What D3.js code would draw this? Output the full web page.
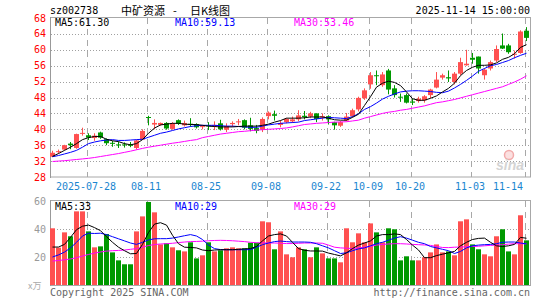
<!DOCTYPE html>
<html>
<head>
<meta charset="utf-8">
<script src="https://cdn.jsdelivr.net/npm/d3@7/dist/d3.min.js"></script>
<style>
body { margin: 0; background: #fff; }
text { font-family: "DejaVu Sans Mono", monospace; }
</style>
</head>
<body>
<div id="chart"></div>
<script>
// trading days shown, oldest first
var dates = [
  "2025-07-18","2025-07-21","2025-07-22","2025-07-23","2025-07-24","2025-07-25","2025-07-28","2025-07-29","2025-07-30","2025-07-31",
  "2025-08-01","2025-08-04","2025-08-05","2025-08-06","2025-08-07","2025-08-08","2025-08-11","2025-08-12","2025-08-13","2025-08-14",
  "2025-08-15","2025-08-18","2025-08-19","2025-08-20","2025-08-21","2025-08-22","2025-08-25","2025-08-26","2025-08-27","2025-08-28",
  "2025-08-29","2025-09-01","2025-09-02","2025-09-03","2025-09-04","2025-09-05","2025-09-08","2025-09-09","2025-09-10","2025-09-11",
  "2025-09-12","2025-09-15","2025-09-16","2025-09-17","2025-09-18","2025-09-19","2025-09-22","2025-09-23","2025-09-24","2025-09-25",
  "2025-09-26","2025-09-29","2025-09-30","2025-10-09","2025-10-10","2025-10-13","2025-10-14","2025-10-15","2025-10-16","2025-10-17",
  "2025-10-20","2025-10-21","2025-10-22","2025-10-23","2025-10-24","2025-10-27","2025-10-28","2025-10-29","2025-10-30","2025-10-31",
  "2025-11-03","2025-11-04","2025-11-05","2025-11-06","2025-11-07","2025-11-10","2025-11-11","2025-11-12","2025-11-13","2025-11-14"
];
var tickDates = ["2025-07-28","2025-08-11","2025-08-25","2025-09-08","2025-09-22","2025-10-09","2025-10-20","2025-11-03","2025-11-14"];
var tickLabels = ["2025-07-28","08-11","08-25","09-08","09-22","10-09","10-20","11-03","11-14"];
var priceTicks = [28, 32, 36, 40, 44, 48, 52, 56, 60, 64, 68];
var volTicks = [20, 40, 60];

var opens = [
  33.1,34.3,34.9,36.4,35.3,38.9,38.5,37.8,39.2,37.5,
  36.6,36.2,36.2,36.1,35.3,37.4,43.1,41.2,41.1,41.6,
  40.1,42.3,41.0,41.4,41.3,40.6,41.0,40.8,41.5,39.9,
  41.3,41.8,42.3,41.0,40.3,39.9,43.3,43.8,41.1,41.8,
  42.0,42.5,43.4,43.2,44.0,43.0,43.3,41.8,40.9,42.2,
  43.3,45.0,47.8,51.3,53.6,51.1,54.8,50.3,48.2,48.6,
  47.0,47.1,47.3,48.6,50.5,53.0,53.1,51.9,54.0,56.1,
  58.0,58.3,53.6,55.3,57.3,61.1,61.1,58.8,59.2,64.8
];
var highs = [
  34.6,34.9,36.1,36.8,38.9,40.4,39.0,39.0,39.4,37.7,
  37.1,36.9,36.7,36.8,37.4,40.0,43.4,42.5,41.7,41.8,
  41.8,42.5,42.2,42.8,41.5,41.1,41.8,42.0,42.4,41.5,
  42.0,42.6,42.5,42.9,41.1,43.0,44.5,44.7,42.2,42.8,
  43.2,44.8,44.6,44.4,44.0,44.0,43.5,41.9,42.1,44.1,
  45.2,48.2,50.3,54.4,54.8,54.4,55.2,51.1,49.0,49.0,
  47.7,48.2,48.6,50.2,54.4,54.0,54.8,54.4,58.0,60.0,
  59.2,58.3,55.3,57.3,61.1,64.1,61.5,59.8,64.9,65.7
];
var lows = [
  33.0,33.9,34.7,35.0,35.1,38.4,37.3,37.1,37.6,36.0,
  35.6,35.3,35.4,35.5,34.9,37.3,41.0,40.0,40.9,39.9,
  39.9,41.1,40.7,40.6,40.2,40.0,39.8,39.8,39.7,39.3,
  40.6,41.0,40.0,39.5,39.0,39.3,42.5,42.2,40.5,41.5,
  41.6,42.0,42.5,42.8,41.8,42.2,41.2,39.9,40.6,42.0,
  43.0,44.5,47.4,50.2,51.1,50.7,48.8,48.0,46.9,46.5,
  46.1,46.7,46.7,47.8,50.3,52.5,51.9,51.3,53.6,56.0,
  56.5,54.0,52.5,54.8,56.9,60.2,59.0,57.8,59.0,62.2
];
var closes = [
  34.1,34.5,36.0,36.0,38.8,39.1,37.9,38.4,37.9,36.5,
  36.4,36.0,36.0,35.9,37.2,39.6,42.9,41.6,41.6,40.2,
  41.5,41.4,41.6,41.2,40.5,40.8,40.8,41.1,40.0,40.8,
  41.6,42.0,40.4,40.1,39.6,42.6,44.2,43.4,41.6,42.6,
  42.5,43.5,43.1,44.0,42.6,43.3,42.5,41.0,41.8,43.2,
  44.8,47.9,49.8,53.6,53.4,53.8,50.0,48.6,48.0,46.7,
  46.7,47.7,48.3,50.0,52.5,53.6,52.8,54.0,56.9,56.5,
  57.5,55.3,55.0,56.9,60.2,60.3,59.4,59.0,64.6,63.0
];
// volume, 万手
var volumes = [
  40.5,26.7,37.6,34.8,52.6,52.6,38.3,26.9,27.6,36.4,
  23.3,17.6,14.8,14.8,38.3,49.0,59.3,51.9,29.0,29.8,
  26.9,24.8,24.0,30.5,19.0,21.2,30.5,24.0,24.8,26.2,
  26.9,26.2,26.2,30.2,30.2,45.5,44.8,25.5,38.3,21.9,
  19.8,26.9,25.5,19.8,26.9,22.6,19.0,19.0,16.2,40.5,
  30.5,36.9,30.5,44.0,37.6,30.5,40.5,39.8,17.6,20.5,
  17.6,17.6,19.8,23.3,29.0,23.3,24.0,21.2,45.5,46.9,
  29.0,25.5,21.9,20.5,34.8,39.8,24.0,21.9,49.8,31.9
];

// moving averages as drawn on the chart
var ma5 = [
  33.2,33.9,34.7,35.5,36.4,37.4,37.9,38.2,38.2,37.5,
  37.1,36.9,36.4,36.1,36.4,37.4,39.0,40.3,41.1,41.3,
  41.5,41.5,41.3,41.2,41.2,41.0,40.8,40.7,40.6,40.6,
  40.6,40.7,40.8,40.8,40.8,41.0,41.3,41.8,42.2,42.8,
  42.8,42.8,42.9,43.1,43.1,43.1,42.8,42.4,42.3,42.3,
  43.0,43.8,46.0,48.2,50.6,51.6,52.1,51.8,51.0,49.4,
  47.7,47.3,47.3,47.8,48.4,49.4,50.3,51.6,53.5,54.8,
  55.6,56.1,56.1,56.2,56.7,57.6,58.1,59.0,60.6,61.3
];
var ma10 = [
  33.1,33.4,33.8,34.2,34.7,35.5,36.4,36.8,37.1,37.3,
  37.4,37.2,37.2,37.3,37.4,37.5,38.0,38.5,39.0,39.3,
  39.7,40.1,40.4,40.7,40.9,41.0,41.0,41.0,40.9,40.8,
  40.8,40.7,40.6,40.5,40.5,40.8,41.1,41.3,41.5,41.6,
  41.7,41.8,42.2,42.4,42.6,42.8,43.0,42.9,42.8,42.7,
  43.2,43.9,45.0,45.7,46.6,47.6,48.3,48.9,49.4,49.6,
  49.7,49.7,49.6,49.5,49.3,49.2,49.6,50.4,51.3,52.3,
  53.4,54.6,55.3,56.0,56.3,56.8,57.3,58.0,58.6,59.13
];
var ma30 = [
  31.9,32.0,32.1,32.25,32.4,32.55,32.7,32.9,33.15,33.4,
  33.65,33.9,34.2,34.5,34.85,35.2,35.5,35.75,36.0,36.25,
  36.5,36.7,36.95,37.2,37.4,37.9,38.2,38.5,38.8,39.0,
  39.2,39.4,39.5,39.65,39.8,39.9,40.0,40.1,40.2,40.35,
  40.6,40.9,41.2,41.35,41.5,41.6,41.7,41.8,41.85,41.9,
  42.1,42.3,42.8,43.2,43.6,44.0,44.3,44.5,44.8,45.0,
  45.3,45.6,45.9,46.3,46.7,46.9,47.2,47.5,47.9,48.3,
  48.7,49.1,49.5,49.9,50.3,50.7,51.3,51.9,52.6,53.46
];
var vma5 = [
  27.1,27.1,29.0,34.0,39.5,42.0,42.8,41.0,38.8,34.5,
  30.5,27.0,24.5,22.3,22.5,29.0,37.5,43.5,44.5,42.8,
  35.5,29.5,27.0,26.8,26.5,25.0,24.5,25.0,25.2,25.2,
  25.2,25.5,25.8,26.0,27.5,31.5,35.0,36.0,36.5,35.0,
  30.5,26.0,24.8,24.3,24.3,24.2,22.8,21.8,20.8,23.0,
  26.0,28.5,30.0,31.5,35.0,36.0,36.0,36.5,36.0,32.5,
  28.5,25.0,19.5,19.5,21.0,22.0,23.0,24.0,28.0,30.5,
  32.5,33.3,33.5,30.5,28.0,27.5,28.0,29.0,34.0,33.4
];
var vma10 = [
  20.0,21.5,23.5,26.5,30.5,35.0,37.0,36.8,37.0,36.0,
  34.5,33.0,31.5,30.0,29.0,30.5,32.2,33.0,33.1,33.1,
  33.5,34.3,35.2,36.0,35.0,32.5,28.5,26.0,25.3,25.2,
  25.2,25.2,25.2,25.3,27.0,28.8,30.0,31.0,31.4,31.0,
  30.7,30.7,30.7,30.5,29.5,28.0,26.5,24.5,22.5,23.0,
  24.5,25.8,26.5,28.0,29.5,30.5,32.0,33.5,34.5,33.5,
  32.0,30.5,29.5,27.5,26.5,25.5,24.5,22.5,24.0,26.5,
  28.0,28.5,28.8,29.0,29.5,30.5,30.7,30.7,30.0,29.4
];
var vma30 = [
  17.1,17.5,18.0,18.6,19.5,20.7,21.8,22.8,23.6,24.2,
  24.5,24.7,25.0,25.5,26.0,27.0,28.2,28.9,29.3,29.5,
  29.8,30.3,30.7,31.0,31.1,31.3,31.6,31.8,31.9,31.8,
  31.6,31.3,31.0,30.5,30.2,30.1,30.0,30.0,29.8,29.6,
  29.6,29.8,30.0,30.0,30.0,29.8,28.5,27.0,26.5,26.3,
  26.0,26.5,27.0,27.6,28.5,29.0,29.3,29.5,29.5,29.3,
  29.0,28.8,28.6,28.3,27.5,26.8,26.7,27.0,27.1,27.3,
  27.5,27.7,28.0,28.3,28.5,28.8,29.2,29.5,29.5,29.4
];

function init() {
  var w = 545;
  var h = 300;
  var left = 50, right = 530;
  var red = "#ff5050", green = "#009900";

  var svg = d3.select("#chart")
      .append("svg")
      .attr("width", w)
      .attr("height", h);

  var x = d3.scaleBand()
      .domain(dates)
      .range([49.5, 529.5]);
  var cx = function(d) { return x(d) + x.bandwidth() / 2; };

  var y = d3.scaleLinear().domain([28, 68]).range([177, 18]);
  var yv = d3.scaleLinear().domain([0, 60]).range([285, 201]);
  var crisp = function(v) { return Math.round(v) + 0.5; };

  // frames
  svg.append("rect").attr("x", left + 0.5).attr("y", 17.5).attr("width", right - left).attr("height", 159.5)
      .attr("fill", "none").attr("stroke", "#a8a8a8");
  svg.append("rect").attr("x", left + 0.5).attr("y", 200.5).attr("width", right - left).attr("height", 85)
      .attr("fill", "none").attr("stroke", "#a8a8a8");

  // horizontal dotted grid
  svg.selectAll("line.hgrid")
    .data(priceTicks.slice(1, -1))
    .enter().append("line")
    .attr("class", "hgrid")
    .attr("x1", left + 1).attr("x2", right)
    .attr("y1", function(d) { return crisp(y(d)); })
    .attr("y2", function(d) { return crisp(y(d)); })
    .attr("stroke", "#a0a0a0").attr("stroke-dasharray", "1,2");
  svg.selectAll("line.vhgrid")
    .data([20, 40])
    .enter().append("line")
    .attr("class", "vhgrid")
    .attr("x1", left + 1).attr("x2", right)
    .attr("y1", function(d) { return crisp(yv(d)); })
    .attr("y2", function(d) { return crisp(yv(d)); })
    .attr("stroke", "#a0a0a0").attr("stroke-dasharray", "1,2");

  // vertical dashed date lines
  var tickX = function(d) { return Math.round(cx(d) - 2) + 0.5; };
  [[18, 177], [201, 285]].forEach(function(r) {
    svg.append("g").selectAll("line")
      .data(tickDates)
      .enter().append("line")
      .attr("x1", tickX).attr("x2", tickX)
      .attr("y1", r[0]).attr("y2", r[1])
      .attr("stroke", "#a8a8a8").attr("stroke-dasharray", "6,5");
  });

  // left axis lines darker
  svg.append("line").attr("x1", 50.5).attr("x2", 50.5).attr("y1", 17).attr("y2", 178).attr("stroke", "#999");
  svg.append("line").attr("x1", 50.5).attr("x2", 50.5).attr("y1", 200).attr("y2", 286).attr("stroke", "#999");

  // sina watermark
  svg.append("circle").attr("cx", 509).attr("cy", 155).attr("r", 4.5)
      .attr("fill", "#fbe0e0").attr("stroke", "#f2aaaa").attr("stroke-width", 1.5);
  svg.append("text").attr("x", 496).attr("y", 170)
      .style("font-family", "Liberation Sans, sans-serif").style("font-style", "italic").style("font-weight", "bold")
      .style("font-size", "14px").attr("fill", "#d4d4d4").text("sina");

  // candles
  var candles = svg.append("g").selectAll("g")
      .data(dates)
      .enter().append("g");
  candles.append("line")
      .attr("x1", function(d) { return cx(d); })
      .attr("x2", function(d) { return cx(d); })
      .attr("y1", function(d, i) { return y(highs[i]); })
      .attr("y2", function(d, i) { return y(lows[i]); })
      .attr("stroke", function(d, i) { return closes[i] >= opens[i] ? red : green; });
  candles.append("rect")
      .attr("x", function(d) { return x(d) + 0.5; })
      .attr("width", 5)
      .attr("y", function(d, i) { return y(Math.max(opens[i], closes[i])); })
      .attr("height", function(d, i) { return Math.max(1, Math.abs(y(opens[i]) - y(closes[i]))); })
      .attr("fill", function(d, i) { return closes[i] >= opens[i] ? red : green; });

  // volume bars
  svg.append("g").selectAll("rect")
      .data(dates)
      .enter().append("rect")
      .attr("x", function(d) { return x(d) + 0.5; })
      .attr("width", 5)
      .attr("y", function(d, i) { return yv(volumes[i]); })
      .attr("height", function(d, i) { return yv(0) - yv(volumes[i]); })
      .attr("fill", function(d, i) { return closes[i] >= opens[i] ? red : green; });

  // MA lines
  var drawLine = function(vals, scale, color) {
    var line = d3.line()
        .x(function(d, i) { return cx(dates[i]); })
        .y(function(d) { return scale(d); });
    svg.append("path")
      .datum(vals)
      .attr("d", line)
      .attr("fill", "none")
      .attr("stroke", color)
      .attr("stroke-width", 1);
  };
  drawLine(ma30, y, "#ff00ff");
  drawLine(ma10, y, "#0000ff");
  drawLine(ma5, y, "#000000");
  drawLine(vma30, yv, "#ff00ff");
  drawLine(vma10, yv, "#0000ff");
  drawLine(vma5, yv, "#000000");

  // price labels
  svg.selectAll("text.py")
    .data(priceTicks)
    .enter().append("text")
    .attr("class", "py")
    .attr("x", 46).attr("y", function(d) { return y(d) + 3.5; })
    .attr("text-anchor", "end")
    .style("font-size", "10px")
    .attr("fill", "#ff0000")
    .text(function(d) { return d; });
  svg.selectAll("text.vy")
    .data(volTicks)
    .enter().append("text")
    .attr("class", "vy")
    .attr("x", 46).attr("y", function(d) { return yv(d) + 3.5; })
    .attr("text-anchor", "end")
    .style("font-size", "10px")
    .attr("fill", "#999")
    .text(function(d) { return d; });

  // date labels
  svg.selectAll("text.dx")
    .data(tickDates)
    .enter().append("text")
    .attr("class", "dx")
    .attr("x", function(d, i) { return i == tickDates.length - 1 ? 523 : tickX(d) - 1.5; })
    .attr("y", 190)
    .attr("text-anchor", function(d, i) { return i == tickDates.length - 1 ? "end" : "middle"; })
    .style("font-size", "10px")
    .attr("fill", "#1a86d0")
    .text(function(d, i) { return tickLabels[i]; });

  // header texts
  var label = function(tx, ty, str, color, anchor) {
    svg.append("text").attr("x", tx).attr("y", ty)
      .attr("text-anchor", anchor || "start")
      .style("font-size", "10px").attr("fill", color).text(str);
  };
  label(50, 14, "sz002738", "#000");
  label(530, 14, "2025-11-14 15:00:00", "#000", "end");
  label(55, 26, "MA5:" + ma5[ma5.length - 1].toFixed(2), "#000");
  label(175, 26, "MA10:" + ma10[ma10.length - 1].toFixed(2), "#0000ff");
  label(294, 26, "MA30:" + ma30[ma30.length - 1].toFixed(2), "#ff00ff");
  label(55, 210, "MA5:" + Math.round(vma5[vma5.length - 1]), "#000");
  label(175, 210, "MA10:" + Math.round(vma10[vma10.length - 1]), "#0000ff");
  label(294, 210, "MA30:" + Math.round(vma30[vma30.length - 1]), "#ff00ff");
  label(50, 296, "Copyright 2025 SINA.COM", "#666");
  label(530, 296, "http://finance.sina.com.cn", "#666", "end");

  svg.append("text").attr("x", 28).attr("y", 289)
    .style("font-family", "Noto Sans CJK SC").style("font-size", "9px")
    .attr("fill", "#aaa").text("x万");

  var title = svg.append("text").attr("y", 15)
    .style("font-family", "Noto Sans CJK SC").style("font-size", "11px").attr("fill", "#000");
  title.append("tspan").attr("x", 121).text("中矿资源");
  title.append("tspan").attr("x", 173).text("-");
  title.append("tspan").attr("x", 190).text("日K线图");
}

window.onload = init;
</script>
</body>
</html>
